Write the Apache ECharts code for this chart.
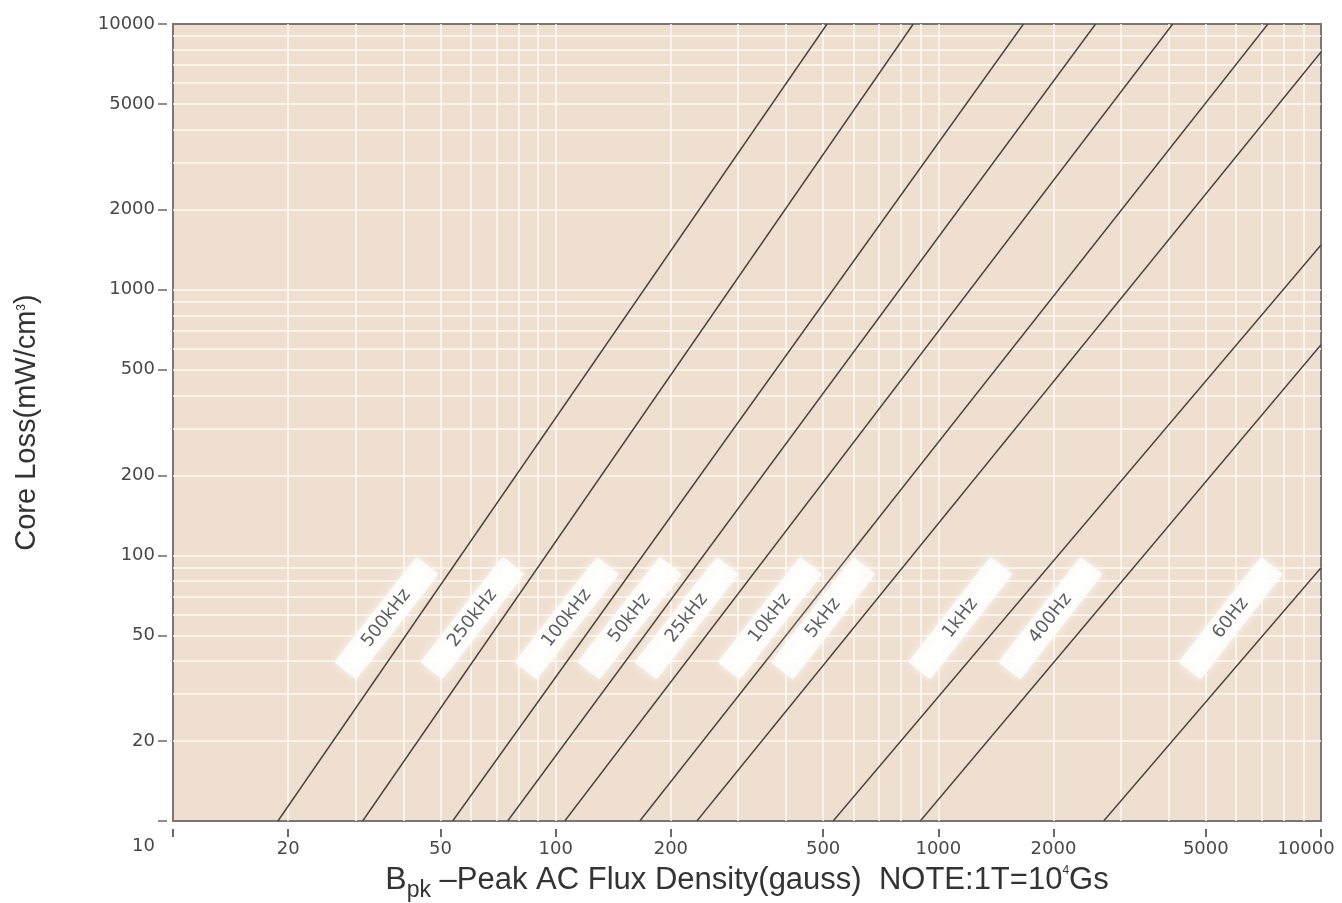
<!DOCTYPE html>
<html>
<head>
<meta charset="utf-8">
<title>Core Loss vs Peak AC Flux Density</title>
<script src="https://cdn.jsdelivr.net/npm/echarts@6/dist/echarts.min.js"></script>
<style>
  html, body { margin: 0; padding: 0; background: #ffffff; }
  #chart { width: 1342px; height: 903px; }
</style>
</head>
<body>
<div id="chart"></div>
<script>
// Frequency curves: each is a straight line on log-log axes, given by its two frame crossings.
const freqNames = ['500kHz', '250kHz', '100kHz', '50kHz', '25kHz', '10kHz', '5kHz', '1kHz', '400Hz', '60Hz'];
const fluxStart = [18.8, 31.3, 53.8, 74.9, 105.6, 165.9, 233.9, 531, 897, 2704];
const lossStart = [10, 10, 10, 10, 10, 10, 10, 10, 10, 10];
const fluxEnd   = [512, 860, 1669, 2576, 4098, 7266, 10000, 10000, 10000, 10000];
const lossEnd   = [10000, 10000, 10000, 10000, 10000, 10000, 7846, 1472, 620, 89.8];

// Where each frequency tag sits (flux value), all tags at the same loss level.
const tagFlux = [36.1, 60.6, 106.9, 156, 220, 363, 500, 1142, 1963, 5808];
const tagLoss = 58;

// Axis ticks and labels
const xTickValues  = [10, 20, 50, 100, 200, 500, 1000, 2000, 5000, 10000];
const xLabelValues = [20, 50, 100, 200, 500, 1000, 2000, 5000, 10000];
const yTickValues  = [10, 20, 50, 100, 200, 500, 1000, 2000, 5000, 10000];

// Light log-grid lines (2..9 within each decade, plus inner decades)
const gridValues = [20, 30, 40, 50, 60, 70, 80, 90, 100,
                    200, 300, 400, 500, 600, 700, 800, 900, 1000,
                    2000, 3000, 4000, 5000, 6000, 7000, 8000, 9000];

const chart = echarts.init(document.getElementById('chart'), null, { renderer: 'canvas' });

const lineColor = '#4a403c';
const labelFont = 'DejaVu Sans';
const titleFont = 'Liberation Sans';

const curveSeries = freqNames.map((name, i) => ({
  name: name,
  type: 'line',
  data: [[fluxStart[i], lossStart[i]], [fluxEnd[i], lossEnd[i]]],
  symbol: 'none',
  clip: true,
  silent: true,
  z: 3,
  lineStyle: { color: lineColor, width: 1.4 }
}));

const gridSeries = {
  name: 'grid',
  type: 'line',
  data: [],
  silent: true,
  z: 1,
  markLine: {
    silent: true,
    z: 1,
    symbol: ['none', 'none'],
    label: { show: false },
    lineStyle: { color: 'rgba(255,249,242,0.72)', width: 2, type: 'solid' },
    animation: false,
    data: gridValues.map(v => ({ xAxis: v })).concat(gridValues.map(v => ({ yAxis: v })))
  }
};

const tagSeries = {
  name: 'tags',
  type: 'scatter',
  symbolSize: 0,
  silent: true,
  z: 5,
  data: freqNames.map((name, i) => ({ name: name, value: [tagFlux[i], tagLoss] })),
  label: {
    show: true,
    position: 'inside',
    formatter: p => p.name,
    rotate: 52,
    color: '#33353b',
    fontFamily: labelFont,
    fontSize: 18,
    width: 72,
    align: 'center',
    backgroundColor: '#ffffff',
    padding: [5, 31],
    borderRadius: 2,
    shadowColor: 'rgba(255,255,255,0.95)',
    shadowBlur: 8
  }
};

const option = {
  animation: false,
  backgroundColor: '#ffffff',
  grid: {
    left: 173, right: 21, top: 24, bottom: 82,
    outerBoundsMode: 'none',
    containLabel: false,
    show: true,
    backgroundColor: '#efdfd0',
    borderColor: '#7a7676',
    borderWidth: 2
  },
  xAxis: {
    type: 'log',
    logBase: 10,
    min: 10,
    max: 10000,
    offset: 8,
    axisLine: { show: false },
    splitLine: { show: false },
    axisTick: {
      show: true,
      inside: false,
      length: 8,
      customValues: xTickValues,
      lineStyle: { color: '#6a6a6a', width: 2 }
    },
    axisLabel: {
      customValues: xLabelValues,
      margin: 11,
      color: '#484848',
      fontFamily: labelFont,
      fontSize: 18,
      formatter: v => {
        const n = Math.round(v);
        return n === 10000 ? '{edge|10000}' : String(n);
      },
      rich: {
        edge: { fontFamily: labelFont, fontSize: 18, color: '#484848', padding: [0, 30, 0, 0] }
      }
    },
    name: '{b|B}{sub|pk}{t| –Peak AC Flux Density(gauss)  NOTE:1T=10}{sup|4}{t|Gs}',
    nameLocation: 'middle',
    nameGap: 30,
    nameTextStyle: {
      color: '#333333',
      rich: {
        b:   { fontFamily: titleFont, fontSize: 32, color: '#333' },
        t:   { fontFamily: titleFont, fontSize: 31, color: '#333' },
        sub: { fontFamily: titleFont, fontSize: 23, color: '#333', verticalAlign: 'bottom', padding: [20, 0, 0, 0] },
        sup: { fontFamily: titleFont, fontSize: 12, color: '#333', verticalAlign: 'top', padding: [6, 0, 0, 0] }
      }
    }
  },
  yAxis: {
    type: 'log',
    logBase: 10,
    min: 10,
    max: 10000,
    offset: 6,
    axisLine: { show: false },
    splitLine: { show: false },
    axisTick: {
      show: true,
      inside: false,
      length: 9,
      customValues: yTickValues,
      lineStyle: { color: '#6a6a6a', width: 1.5 }
    },
    axisLabel: {
      customValues: yTickValues,
      margin: 12,
      color: '#484848',
      fontFamily: labelFont,
      fontSize: 18,
      formatter: v => {
        const n = Math.round(v);
        return n === 10 ? '{low|10}' : String(n);
      },
      rich: {
        low: { fontFamily: labelFont, fontSize: 18, color: '#484848', padding: [50, 0, 0, 0] }
      }
    },
    name: '{t|Core Loss(mW/cm}{s|3}{t|)}',
    nameLocation: 'middle',
    nameGap: 126,
    nameTextStyle: {
      color: '#333333',
      rich: {
        t: { fontFamily: titleFont, fontSize: 29, color: '#333' },
        s: { fontFamily: titleFont, fontSize: 12, color: '#333', verticalAlign: 'top', padding: [4, 0, 0, 0] }
      }
    }
  },
  series: [gridSeries].concat(curveSeries, [tagSeries])
};

chart.setOption(option);
</script>
</body>
</html>
